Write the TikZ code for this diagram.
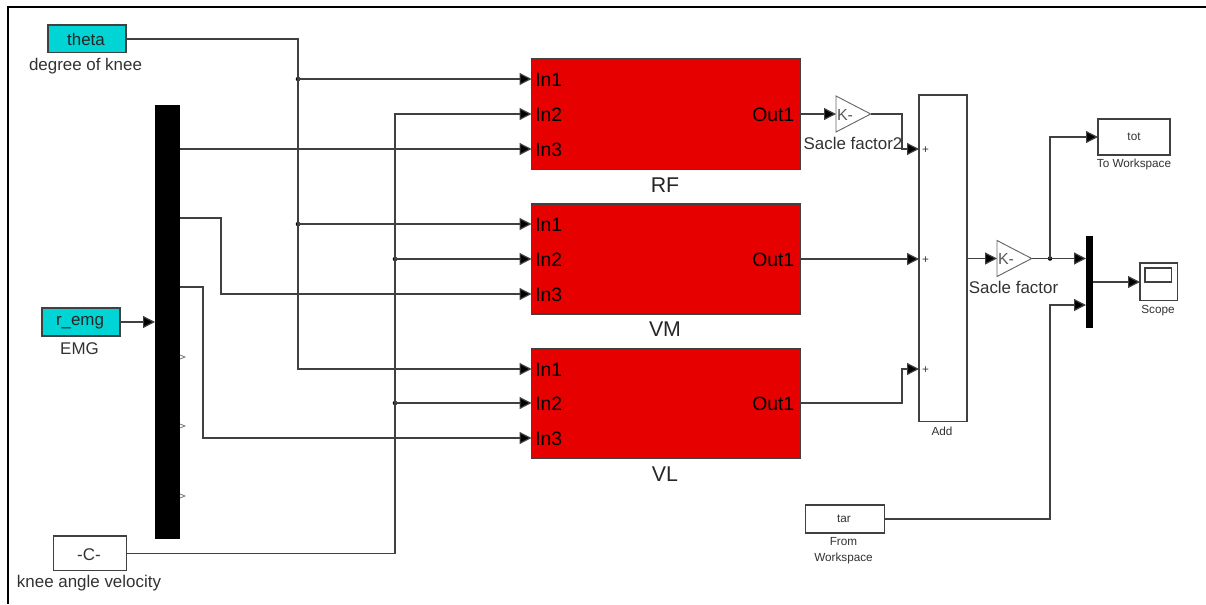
\documentclass[tikz,border=0pt]{standalone}
\usepackage{fontspec}
\setmainfont{Liberation Sans}
\usetikzlibrary{arrows.meta,shapes.geometric}
\definecolor{simred}{RGB}{230,0,0}
\definecolor{simcyan}{RGB}{0,212,212}
\definecolor{simtext}{RGB}{50,50,50}
\tikzset{
  wire/.style={black!75,line width=0.9pt},
  sig/.style={wire,-{Triangle[length=9pt,width=9pt,fill=black]}},
  block/.style={draw=black!75,line width=0.9pt,inner sep=0pt,outer sep=0pt,anchor=north west},
  srcbox/.style={block,fill=simcyan},
  subsys/.style={block,fill=simred,minimum width=201.75pt},
  muxbar/.style={fill=black,inner sep=0pt,outer sep=0pt,anchor=north west},
  gainbox/.style={draw=black!60,line width=0.7pt,isosceles triangle,isosceles triangle stretches,
    inner sep=0pt,outer sep=0pt,minimum width=27pt,minimum height=26pt,anchor=lower side},
  lbl/.style={font=\fontsize{12.7pt}{14pt}\selectfont,text=simtext,inner sep=0pt,yshift=-1pt},
  port/.style={font=\fontsize{14.5pt}{16pt}\selectfont,text=black,inner sep=0pt,yshift=-0.75pt},
  title/.style={font=\fontsize{16pt}{18pt}\selectfont,text=black!85,inner sep=0pt},
  tiny/.style={font=\fontsize{8.8pt}{12pt}\selectfont,text=simtext,inner sep=0pt,align=center,yshift=-0.5pt},
  dot/.style={circle,fill=black,inner sep=0pt,minimum size=3.4pt},
}
\begin{document}
\begin{tikzpicture}[x=0.75pt,y=-0.75pt,line cap=butt,line join=miter]
\useasboundingbox (0,0) rectangle (1206,604);
\draw[black,line width=1.5pt] (8,604) -- (8,7) -- (1206,7);
% sources on the left
\node[srcbox,minimum width=58.5pt,minimum height=20.5pt] (theta) at (48,25) {};
\node[lbl,text=black!85] (theta_txt) at (86,38) {theta};
\node[lbl] (theta_lbl) at (85.5,64.5) {degree of knee};
\node[srcbox,minimum width=58.5pt,minimum height=21pt] (emg) at (42,308) {};
\node[lbl,text=black!85] (emg_txt) at (80,321.5) {r\_emg};
\node[lbl] (emg_lbl) at (79.5,347.5) {EMG};
\node[block,minimum width=54.5pt,minimum height=26pt] (vel) at (53.5,536) {};
\node[lbl] (vel_txt) at (89,553.5) {-C-};
\node[lbl] (vel_lbl) at (89,582) {knee angle velocity};
\node[muxbar,minimum width=18.75pt,minimum height=325.5pt] (demux) at (155,105) {};
% red subsystems
\node[subsys,minimum height=83.5pt] (rf) at (531.5,58.5) {};
\node[subsys,minimum height=82.5pt] (vm) at (531.5,204) {};
\node[subsys,minimum height=82pt] (vl) at (531.5,349) {};
\node[title] (rf_lbl) at (665,185) {RF};
\node[title] (vm_lbl) at (665,329) {VM};
\node[title] (vl_lbl) at (665,474) {VL};
\node[port,anchor=west] (rf_in1) at (535,79) {In1};
\node[port,anchor=west] (rf_in2) at (535,114) {In2};
\node[port,anchor=west] (rf_in3) at (535,149) {In3};
\node[port,anchor=east] (rf_out) at (794.5,114) {Out1};
\node[port,anchor=west] (vm_in1) at (535,224) {In1};
\node[port,anchor=west] (vm_in2) at (535,259) {In2};
\node[port,anchor=west] (vm_in3) at (535,294) {In3};
\node[port,anchor=east] (vm_out) at (794.5,259) {Out1};
\node[port,anchor=west] (vl_in1) at (535,369) {In1};
\node[port,anchor=west] (vl_in2) at (535,403) {In2};
\node[port,anchor=west] (vl_in3) at (535,438) {In3};
\node[port,anchor=east] (vl_out) at (794.5,403) {Out1};
% gains, sum and sinks
\node[gainbox] (gain2) at (836,114) {};
\node[lbl,font=\fontsize{12pt}{14pt}\selectfont,text=black!65] (gain2_txt) at (845,113.5) {K-};
\node[lbl] (gain2_lbl) at (853,142) {Sacle factor2};
\node[block,minimum width=36pt,minimum height=245pt] (add) at (919,95) {};
\node[tiny] (add_lbl) at (942,431) {Add};
\node[tiny] (add_p1) at (925.5,149) {+};
\node[tiny] (add_p2) at (925.5,259) {+};
\node[tiny] (add_p3) at (925.5,369) {+};
\node[gainbox] (gain1) at (997,258.5) {};
\node[lbl,font=\fontsize{12pt}{14pt}\selectfont,text=black!65] (gain1_txt) at (1006,258) {K-};
\node[lbl] (gain1_lbl) at (1013.5,286.5) {Sacle factor};
\node[block,minimum width=54pt,minimum height=27pt] (tot) at (1098,119) {};
\node[tiny] (tot_txt) at (1134,136) {tot};
\node[tiny] (tot_lbl) at (1134,164) {To Workspace};
\node[muxbar,minimum width=5.5pt,minimum height=69pt] (mux) at (1086,236) {};
\node[block,minimum width=28pt,minimum height=28pt] (scope) at (1140,263) {};
\node[block,minimum width=20pt,minimum height=10.5pt] (scope_scr) at (1145,268) {};
\node[tiny] (scope_lbl) at (1158,310) {Scope};
\node[block,minimum width=59pt,minimum height=21pt] (tar) at (805.5,505) {};
\node[tiny] (tar_txt) at (844,518) {tar};
\node[tiny] (tar_lbl) at (843.5,550) {From\\Workspace};
% junctions
\node[dot] (theta_j1) at (298,79) {};
\node[dot] (theta_j2) at (298,224) {};
\node[dot] (vel_j1) at (395,259) {};
\node[dot] (vel_j2) at (395,403) {};
\node[dot] (gain_j) at (1050,258.5) {};
% wires
\draw[wire] (theta.east |- 0,39) -| (theta_j2.center);
\draw[sig] (theta_j2.center) |- (vl.west |- 0,369);
\draw[sig] (theta_j1.center) -- (rf.west |- theta_j1);
\draw[sig] (theta_j2.center) -- (vm.west |- theta_j2);
\draw[sig] (emg.east |- 0,322) -- (demux.west |- 0,322);
\draw[sig] (demux.east |- 0,149) -- (rf.west |- 0,149);
\draw[sig] (demux.east |- 0,218) -| (221,294) -- (vm.west |- 0,294);
\draw[sig] (demux.east |- 0,287) -| (203,438) -- (vl.west |- 0,438);
\draw[wire] (vel.east |- 0,553.5) -| (vel_j1.center);
\draw[sig] (vel_j1.center) |- (rf.west |- 0,114);
\draw[sig] (vel_j1.center) -- (vm.west |- vel_j1);
\draw[sig] (vel_j2.center) -- (vl.west |- vel_j2);
\draw[sig] (rf.east |- 0,114) -- (gain2.lower side);
\draw[sig] (gain2.apex) -| (902,149) -- (add.west |- 0,149);
\draw[sig] (vm.east |- 0,259) -- (add.west |- 0,259);
\draw[sig] (vl.east |- 0,403) -| (902,369) -- (add.west |- 0,369);
\draw[sig] (add.east |- gain1.lower side) -- (gain1.lower side);
\draw[sig] (gain1.apex) -- (mux.west |- gain1.apex);
\draw[sig] (gain_j.center) |- (tot.west |- 0,137);
\draw[sig] (tar.east |- 0,519) -| (1050,305) -- (mux.west |- 0,305);
\draw[sig] (mux.east |- 0,282) -- (scope.west |- 0,282);
% unused demux outputs
\draw[black!55,line width=0.6pt] (180,355) -- (185,357) -- (180,359);
\draw[black!55,line width=0.6pt] (180,424) -- (185,426) -- (180,428);
\draw[black!55,line width=0.6pt] (180,494) -- (185,496) -- (180,498);
\end{tikzpicture}
\end{document}
